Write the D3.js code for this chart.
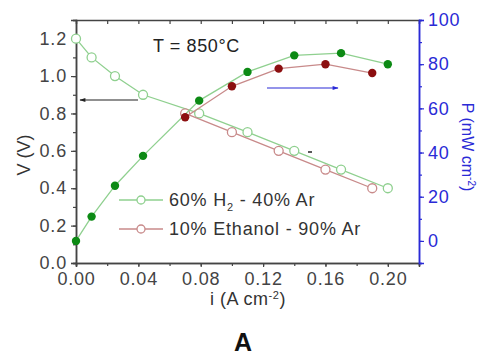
<!DOCTYPE html>
<html>
<head>
<meta charset="utf-8">
<script src="https://cdn.jsdelivr.net/npm/d3@7"></script>
<style>
  body { margin: 0; background: #fff; }
  svg { font-family: "Liberation Sans", Arial, sans-serif; }
</style>
</head>
<body>
<svg id="chart" width="484" height="358"></svg>
<script>
// H2 series: current density, voltage, power
const h2Current = [0.00, 0.01, 0.025, 0.043, 0.079, 0.11, 0.14, 0.17, 0.20];
const h2Voltage = [1.2, 1.1, 1.0, 0.9, 0.8, 0.7, 0.6, 0.5, 0.4];
const h2Power = [0, 11, 25, 38.5, 63.5, 76.5, 84, 85, 80];

// Ethanol series
const etCurrent = [0.07, 0.10, 0.13, 0.16, 0.19];
const etVoltage = [0.8, 0.7, 0.6, 0.5, 0.4];
const etPower = [56, 70, 78, 80, 76];

const xTicks = [0.00, 0.04, 0.08, 0.12, 0.16, 0.20];
const vTicks = [0.0, 0.2, 0.4, 0.6, 0.8, 1.0, 1.2];
const pTicks = [0, 20, 40, 60, 80, 100];

const legendLabels = ["60% H", "10% Ethanol - 90% Ar"];

const margin = { top: 20, right: 65, bottom: 95, left: 76 };

const svg = d3.select("#chart");

const x = d3.scaleLinear().domain([0, 0.22]).range([margin.left, 419]);
const yV = d3.scaleLinear().domain([0, 1.3]).range([263, margin.top]);
const yP = d3.scaleLinear().domain([-10, 100]).range([263, margin.top]);

const axisGrey = "#444";
const textGrey = "#333";
const blue = "#2a2ad6";

const greenLine = "#8fd08f", greenDot = "#0c8a14";
const redLine = "#c88a8a", redDot = "#8c0f10";

function styleAxis(g, color) {
  g.select(".domain").attr("stroke", color).attr("stroke-width", 1.5);
  g.selectAll(".tick line").attr("stroke", color).attr("stroke-width", 1.2);
  g.selectAll(".tick text")
    .attr("fill", color)
    .style("font-size", "18px")
    .style("letter-spacing", "0.8px")
    .style("font-family", "Liberation Sans, Arial, sans-serif");
}

// bottom axis: minor then major
svg.append("g")
  .attr("transform", `translate(0,263)`)
  .call(d3.axisBottom(x).tickValues(d3.range(0, 0.221, 0.02)).tickSize(3).tickFormat(""))
  .call(g => styleAxis(g, axisGrey));
svg.append("g")
  .attr("transform", `translate(0,263)`)
  .call(d3.axisBottom(x).tickValues(xTicks).tickSize(4).tickPadding(5).tickFormat(d3.format(".2f")))
  .call(g => styleAxis(g, axisGrey));

// top axis (inward ticks)
svg.append("g")
  .attr("transform", `translate(0,${margin.top})`)
  .call(d3.axisBottom(x).tickValues(d3.range(0.02, 0.221, 0.02)).tickSize(4).tickFormat(""))
  .call(g => styleAxis(g, axisGrey));

// left axis
svg.append("g")
  .attr("transform", `translate(${margin.left},0)`)
  .call(d3.axisLeft(yV).tickValues(d3.range(0, 1.31, 0.1)).tickSize(3).tickFormat(""))
  .call(g => styleAxis(g, axisGrey));
svg.append("g")
  .attr("transform", `translate(${margin.left},0)`)
  .call(d3.axisLeft(yV).tickValues(vTicks).tickSize(5).tickPadding(4).tickFormat(d3.format(".1f")))
  .call(g => styleAxis(g, axisGrey));

// right axis (blue)
svg.append("g")
  .attr("transform", `translate(419,0)`)
  .call(d3.axisRight(yP).tickValues(d3.range(-10, 101, 10)).tickSize(3).tickFormat(""))
  .call(g => styleAxis(g, blue));
svg.append("g")
  .attr("transform", `translate(419,0)`)
  .call(d3.axisRight(yP).tickValues(pTicks).tickSize(5).tickPadding(4))
  .call(g => styleAxis(g, blue));

// series
function drawSeries(xs, ys, yScale, lineColor, filled, dotColor) {
  const pts = xs.map((d, i) => [d, ys[i]]);
  svg.append("path")
    .datum(pts)
    .attr("fill", "none")
    .attr("stroke", lineColor)
    .attr("stroke-width", 1.3)
    .attr("d", d3.line().x(d => x(d[0])).y(d => yScale(d[1])));
  svg.append("g").selectAll("circle")
    .data(pts)
    .join("circle")
    .attr("cx", d => x(d[0]))
    .attr("cy", d => yScale(d[1]))
    .attr("r", filled ? 4.2 : 4.5)
    .attr("fill", filled ? dotColor : "#fff")
    .attr("stroke", filled ? dotColor : lineColor)
    .attr("stroke-width", filled ? 0 : 1.3);
}

drawSeries(h2Current, h2Voltage, yV, greenLine, false);
drawSeries(etCurrent, etVoltage, yV, redLine, false);
drawSeries(h2Current, h2Power, yP, greenLine, true, greenDot);
drawSeries(etCurrent, etPower, yP, redLine, true, redDot);

// arrows
const defs = svg.append("defs");
function marker(id, color) {
  defs.append("marker")
    .attr("id", id)
    .attr("viewBox", "0 0 10 10")
    .attr("refX", 9).attr("refY", 5)
    .attr("markerWidth", 6).attr("markerHeight", 5)
    .attr("orient", "auto")
    .append("path")
    .attr("d", "M0,1.5L10,5L0,8.5Z")
    .attr("fill", color);
}
marker("arrowBlack", "#222");
marker("arrowBlue", blue);

svg.append("line")
  .attr("x1", 138).attr("y1", 100).attr("x2", 80).attr("y2", 100)
  .attr("stroke", "#222").attr("stroke-width", 1.2)
  .attr("marker-end", "url(#arrowBlack)");
svg.append("line")
  .attr("x1", 267).attr("y1", 88).attr("x2", 338).attr("y2", 88)
  .attr("stroke", blue).attr("stroke-width", 1.2)
  .attr("marker-end", "url(#arrowBlue)");
// small stray dash
svg.append("line")
  .attr("x1", 308).attr("y1", 152).attr("x2", 312).attr("y2", 152)
  .attr("stroke", "#222").attr("stroke-width", 1.5);

// temperature label
svg.append("text")
  .attr("x", 153).attr("y", 52)
  .attr("fill", "#222")
  .style("font-size", "18px")
  .style("letter-spacing", "0.6px")
  .text("T = 850°C");

// legend
const legY = [200, 229];
const legColors = [greenLine, redLine];
legY.forEach((ly, i) => {
  svg.append("line")
    .attr("x1", 119).attr("x2", 163).attr("y1", ly).attr("y2", ly)
    .attr("stroke", legColors[i]).attr("stroke-width", 1.3);
  svg.append("circle")
    .attr("cx", 141).attr("cy", ly).attr("r", 4)
    .attr("fill", "#fff").attr("stroke", legColors[i]).attr("stroke-width", 1.3);
});
const leg1 = svg.append("text")
  .attr("x", 169).attr("y", 206)
  .attr("fill", textGrey)
  .style("font-size", "18px")
  .style("letter-spacing", "0.8px");
leg1.append("tspan").text(legendLabels[0]);
leg1.append("tspan").attr("dy", 5).style("font-size", "11px").text("2");
leg1.append("tspan").attr("dy", -5).text(" - 40% Ar");
svg.append("text")
  .attr("x", 169).attr("y", 235)
  .attr("fill", textGrey)
  .style("font-size", "18px")
  .style("letter-spacing", "0.8px")
  .text(legendLabels[1]);

// axis titles
const xt = svg.append("text")
  .attr("x", 248).attr("y", 305)
  .attr("text-anchor", "middle")
  .attr("fill", textGrey)
  .style("font-size", "18px")
  .style("letter-spacing", "0.5px");
xt.append("tspan").text("i (A cm");
xt.append("tspan").attr("dy", -6).style("font-size", "11px").text("-2");
xt.append("tspan").attr("dy", 6).text(")");

svg.append("text")
  .attr("transform", "translate(30,155) rotate(-90)")
  .attr("text-anchor", "middle")
  .attr("fill", textGrey)
  .style("font-size", "18px")
  .text("V (V)");

const pt = svg.append("text")
  .attr("transform", "translate(462,147) rotate(90)")
  .attr("text-anchor", "middle")
  .attr("fill", blue)
  .style("font-size", "16px");
pt.append("tspan").text("P (mW cm");
pt.append("tspan").attr("dy", -6).style("font-size", "10px").text("-2");
pt.append("tspan").attr("dy", 6).text(")");

// panel label
svg.append("text")
  .attr("x", 243).attr("y", 351)
  .attr("text-anchor", "middle")
  .attr("fill", "#111")
  .style("font-size", "25px")
  .style("font-weight", "bold")
  .text("A");
</script>
</body>
</html>
